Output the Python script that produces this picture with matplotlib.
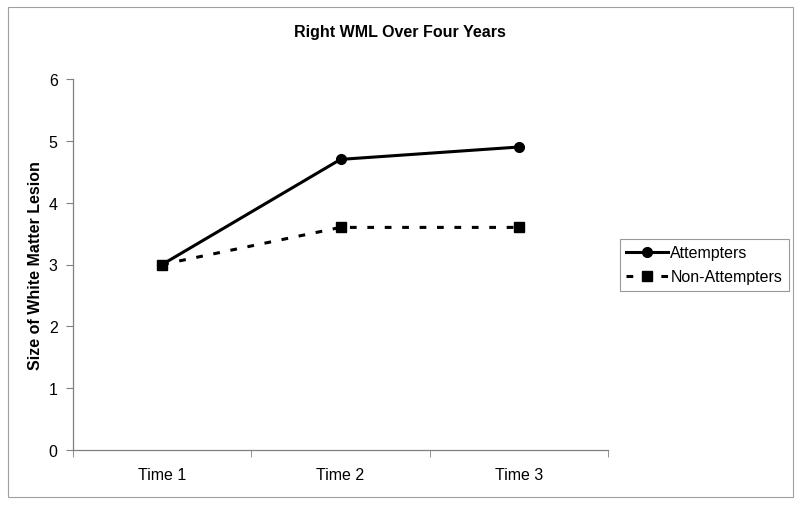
import matplotlib
matplotlib.use("Agg")
import matplotlib.pyplot as plt
from matplotlib.patches import Rectangle

plt.rcParams['font.family'] = ['Liberation Sans', 'DejaVu Sans']

categories = ["Time 1", "Time 2", "Time 3"]
attempters = [3.0, 4.7, 4.9]
non_attempters = [3.0, 3.6, 3.6]
y_ticks = [0, 1, 2, 3, 4, 5, 6]

fig = plt.figure(figsize=(8.0, 5.06), dpi=100)
fig.patch.set_facecolor('white')
W, H = 800, 506

# outer frame
fig.patches.append(Rectangle((7.5 / W, 1 - 497.5 / H), 785 / W, 490 / H,
                             transform=fig.transFigure, fill=False,
                             edgecolor='#a0a0a0', linewidth=0.8))

ax = fig.add_axes([73 / W, 1 - 451 / H, (608 - 73) / W, (451 - 80) / H])
x = list(range(len(categories)))
ax.plot(x, attempters, color='black', linewidth=2.2, marker='o', markersize=7,
        label='Attempters')
ax.plot(x, non_attempters, color='black', linewidth=2.2, linestyle=(0, (2.2, 3.5)),
        marker='s', markersize=7, label='Non-Attempters')

ax.set_xlim(-0.5, 2.5)
ax.set_ylim(0, 6)
ax.set_yticks(y_ticks)
ax.set_yticklabels([str(v) for v in y_ticks], fontsize=11.5)
ax.set_xticks(x)
ax.set_xticklabels(categories, fontsize=11.5)
ax.tick_params(axis='x', length=0, pad=12)
ax.set_xticks([-0.5, 0.5, 1.5, 2.5], minor=True)
ax.tick_params(axis='x', which='minor', length=5, direction='out', color='#808080')
ax.tick_params(axis='y', length=5, direction='out', color='#808080', pad=6)
for s in ['top', 'right']:
    ax.spines[s].set_visible(False)
for s in ['left', 'bottom']:
    ax.spines[s].set_color('#808080')
    ax.spines[s].set_linewidth(0.9)

ax.set_ylabel('Size of White Matter Lesion', fontsize=11.5, fontweight='bold', labelpad=4)
fig.text(400 / W, 1 - 33 / H, 'Right WML Over Four Years', ha='center', va='center',
         fontsize=11.5, fontweight='bold')

leg = fig.legend(loc='upper left', bbox_to_anchor=(620 / W, 1 - 240 / H),
                 bbox_transform=fig.transFigure, fontsize=11.5, frameon=True,
                 fancybox=False, edgecolor='#808080', handlelength=2.6,
                 handletextpad=0.15, borderpad=0.4, labelspacing=0.55,
                 borderaxespad=0)
leg.get_frame().set_linewidth(0.8)

fig.savefig('out.png', dpi=100)
